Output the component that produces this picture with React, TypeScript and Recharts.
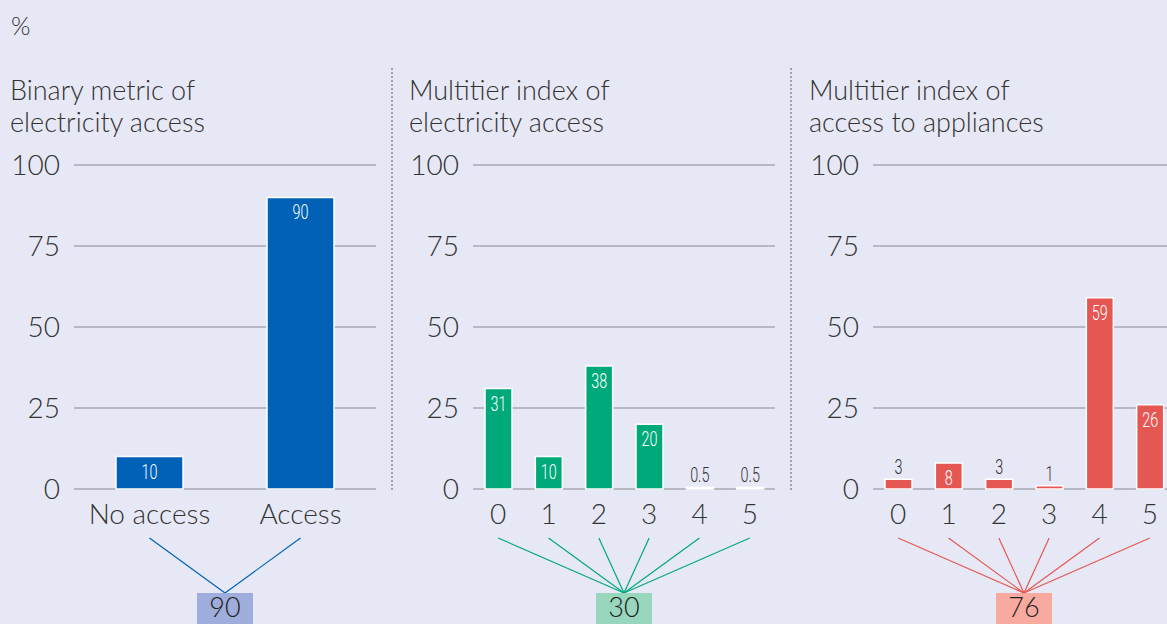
import React from 'react'
import { BarChart, Bar, XAxis, YAxis, CartesianGrid, LabelList } from 'recharts'

const binaryCategories = ['No access', 'Access']
const binaryValues = [10, 90]
const tierCategories = ['0', '1', '2', '3', '4', '5']
const electricityTierValues = [31, 10, 38, 20, 0.5, 0.5]
const applianceTierValues = [3, 8, 3, 1, 59, 26]
const yTicks = [0, 25, 50, 75, 100]

const panelTitles = [
  ['Binary metric of', 'electricity access'],
  ['Multitier index of', 'electricity access'],
  ['Multitier index of', 'access to appliances'],
]
const summaryValues = [90, 30, 76]

const BG = '#e7e8f5'
const TEXT = '#333'
const FONT = 'Lato, "Open Sans", sans-serif'

const CHART_W = 400
const CHART_H = 624
const Y_W = 74
const RIGHT = 24
const TOP = 165
const BOTTOM_AXIS = 135
const PLOT_CENTER = Y_W + (CHART_W - Y_W - RIGHT) / 2

const panels = [
  { left: 0, cats: binaryCategories, values: binaryValues, color: '#0061b7', box: '#9eaddb', barSize: 67 },
  { left: 399, cats: tierCategories, values: electricityTierValues, color: '#00a97a', box: '#98d6bd', barSize: 27 },
  { left: 799, cats: tierCategories, values: applianceTierValues, color: '#e55752', box: '#f8aaa1', barSize: 27 },
]

const makeTick = (lineColor: string) => (props: any) => {
  const { x, y, payload } = props
  return (
    <g>
      <text x={x} y={y + 35} textAnchor="middle" fontSize={28} fontWeight={300} fill={TEXT} fontFamily={FONT}>
        {payload.value}
      </text>
      <line x1={x} y1={y + 49} x2={PLOT_CENTER} y2={y + 104} stroke={lineColor} strokeWidth={1.2} />
    </g>
  )
}

// condensed look: squeeze Roboto horizontally
const barLabel = (props: any) => {
  const { x, y, width, value } = props
  const inside = value >= 5
  const cx = x + width / 2
  const ty = inside ? y + 22 : y - 5
  return (
    <g transform={`translate(${cx},${ty}) scale(0.72,1)`}>
      <text
        x={0}
        y={0}
        textAnchor="middle"
        fontSize={20}
        fontWeight={300}
        fill={inside ? '#fff' : TEXT}
        fontFamily="Roboto, sans-serif"
      >
        {value}
      </text>
    </g>
  )
}

function Panel({ index }: { index: number }) {
  const p = panels[index]
  const data = p.cats.map((c, i) => ({ cat: c, value: p.values[i] }))
  return (
    <div style={{ position: 'absolute', left: p.left, top: 0, width: CHART_W, height: CHART_H }}>
      <div
        style={{
          position: 'absolute',
          left: 10,
          top: 74,
          fontFamily: FONT,
          fontWeight: 300,
          fontSize: 27,
          lineHeight: '32px',
          color: TEXT,
          whiteSpace: 'nowrap',
        }}
      >
        {panelTitles[index][0]}
        <br />
        {panelTitles[index][1]}
      </div>
      <BarChart width={CHART_W} height={CHART_H} data={data} margin={{ top: TOP, right: RIGHT, left: 0, bottom: 0 }}>
        <CartesianGrid vertical={false} stroke="#a9a9b4" strokeWidth={1.5} />
        <XAxis
          dataKey="cat"
          height={BOTTOM_AXIS}
          axisLine={false}
          tickLine={false}
          tickSize={0}
          tickMargin={0}
          interval={0}
          tick={makeTick(p.color)}
        />
        <YAxis
          width={Y_W}
          domain={[0, 100]}
          ticks={yTicks}
          axisLine={false}
          tickLine={false}
          tickSize={0}
          tickMargin={14}
          tick={{ fontSize: 28, fill: TEXT, fontFamily: FONT, fontWeight: 300 }}
        />
        <Bar dataKey="value" fill={p.color} stroke="#fff" strokeWidth={1.5} barSize={p.barSize} isAnimationActive={false}>
          <LabelList dataKey="value" content={barLabel} />
        </Bar>
      </BarChart>
      <svg style={{ position: 'absolute', left: PLOT_CENTER - 28, top: 581 }} width={56} height={43}>
        <rect x={0} y={12} width={56} height={31} fill={p.box} />
        <text x={28} y={36} textAnchor="middle" fontSize={27} fontWeight={300} fill="#222" fontFamily={FONT}>
          {summaryValues[index]}
        </text>
      </svg>
    </div>
  )
}

export default function App() {
  return (
    <div
      style={{
        position: 'fixed',
        left: 0,
        top: 0,
        width: 1167,
        height: 624,
        overflow: 'hidden',
        background: BG,
      }}
    >
      <div style={{ position: 'absolute', left: 11, top: 10, fontSize: 25, fontFamily: FONT, fontWeight: 300, color: TEXT }}>
        %
      </div>
      {[392, 791].map((x) => (
        <div
          key={x}
          style={{ position: 'absolute', left: x - 1, top: 68, height: 422, borderLeft: '2px dotted #a0a0a8' }}
        />
      ))}
      {panels.map((_, i) => (
        <Panel key={i} index={i} />
      ))}
    </div>
  )
}
